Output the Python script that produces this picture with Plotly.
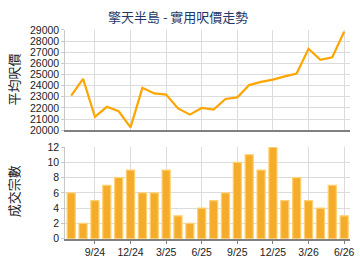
import plotly.graph_objects as go

months = ["7/24","8/24","9/24","10/24","11/24","12/24","1/25","2/25","3/25","4/25","5/25","6/25",
          "7/25","8/25","9/25","10/25","11/25","12/25","1/26","2/26","3/26","4/26","5/26","6/26"]
avg_price = [23100,24600,21200,22100,21700,20250,23800,23300,23200,21950,21400,22000,
             21850,22800,22950,24050,24340,24540,24830,25090,27310,26320,26540,28830]
deals = [6,2,5,7,8,9,6,6,9,3,2,4,5,6,10,11,9,12,5,8,5,4,7,3]
tick_labels = ["9/24","12/24","3/25","6/25","9/25","12/25","3/26","6/26"]

title_text = "擎天半島 - 實用呎價走勢"
ytitle_top = "平均呎價"
ytitle_bot = "成交宗數"

W, H = 360, 270
def px_x(p): return p / W
def px_y(p): return 1 - p / H

font_main = "Liberation Sans, Arial, sans-serif"
font_cjk = "Noto Sans CJK TC, Noto Sans CJK SC, sans-serif"
grid = "#dcdcdc"

fig = go.Figure()
fig.add_trace(go.Scatter(x=months, y=avg_price, mode="lines",
                         line=dict(color="#FFA500", width=2.2),
                         xaxis="x", yaxis="y", hoverinfo="skip"))
fig.add_trace(go.Bar(x=months, y=deals, width=0.68,
                     marker=dict(color="#F5AC2A", line=dict(color="#FFCF70", width=1.2)),
                     xaxis="x2", yaxis="y2", hoverinfo="skip"))

xdom = [px_x(66), px_x(354)]
common_x = dict(type="category", categoryorder="array", categoryarray=months,
                range=[-0.5, 23.5], tickmode="array", tickvals=tick_labels,
                showgrid=True, gridcolor=grid, gridwidth=1,
                showline=True, linecolor="#808080", linewidth=2,
                tickfont=dict(family=font_main, size=10.5, color="#222"),
                fixedrange=True, zeroline=False)

fig.update_layout(
    width=W, height=H,
    margin=dict(l=0, r=0, t=0, b=0),
    paper_bgcolor="white", plot_bgcolor="white",
    showlegend=False,
    xaxis=dict(common_x, domain=xdom, anchor="y", showticklabels=False, ticks=""),
    yaxis=dict(domain=[px_y(130), px_y(25)], range=[20000, 29000],
               tickmode="linear", tick0=20000, dtick=1000, tickformat="d",
               showgrid=True, gridcolor=grid, showline=True, linecolor="#c8c8c8", linewidth=1,
               ticks="outside", ticklen=3, tickcolor="#c8c8c8",
               tickfont=dict(family=font_main, size=10.5, color="#222"),
               zeroline=False, anchor="x"),
    xaxis2=dict(common_x, domain=xdom, anchor="y2", ticks="outside", ticklen=3, tickcolor="#808080"),
    yaxis2=dict(domain=[px_y(243.5), px_y(147.7)], range=[0, 12],
                tickmode="linear", tick0=0, dtick=2, tickformat="d",
                showgrid=True, gridcolor=grid, showline=True, linecolor="#c8c8c8", linewidth=1,
                ticks="outside", ticklen=3, tickcolor="#c8c8c8",
                tickfont=dict(family=font_main, size=10.5, color="#222"),
                zeroline=False, anchor="x2"),
    annotations=[
        dict(text=title_text, x=0.5, y=px_y(11), xref="paper", yref="paper",
             showarrow=False, font=dict(family=font_cjk, size=13, color="#1F3A68"),
             xanchor="center", yanchor="middle"),
        dict(text=ytitle_top, x=px_x(14), y=px_y(77), xref="paper", yref="paper",
             showarrow=False, textangle=-90, font=dict(family=font_cjk, size=13, color="#222"),
             xanchor="center", yanchor="middle"),
        dict(text=ytitle_bot, x=px_x(14), y=px_y(194), xref="paper", yref="paper",
             showarrow=False, textangle=-90, font=dict(family=font_cjk, size=13, color="#222"),
             xanchor="center", yanchor="middle"),
    ],
)

fig.write_html("out.html")
